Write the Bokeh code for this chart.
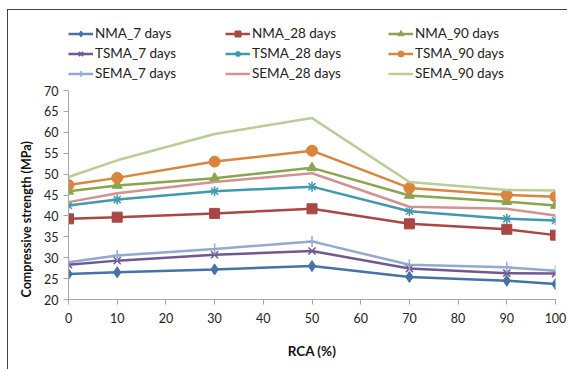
from bokeh.plotting import figure
from bokeh.models import Legend, LegendItem, FixedTicker, ColumnDataSource, Title
from bokeh.embed import file_html
from bokeh.resources import INLINE

rca = [0, 10, 30, 50, 70, 90, 100]

nma_7 = [26.1, 26.5, 27.2, 28.0, 25.4, 24.5, 23.7]
nma_28 = [39.3, 39.7, 40.6, 41.7, 38.1, 36.8, 35.4]
nma_90 = [45.9, 47.3, 49.0, 51.5, 44.9, 43.4, 42.5]
tsma_7 = [28.3, 29.3, 30.7, 31.6, 27.4, 26.3, 26.2]
tsma_28 = [42.5, 43.9, 45.9, 47.0, 41.1, 39.3, 38.9]
tsma_90 = [47.4, 49.1, 53.0, 55.6, 46.7, 45.0, 44.6]
sema_7 = [28.9, 30.5, 32.1, 33.9, 28.3, 27.7, 26.9]
sema_28 = [43.3, 45.4, 48.1, 50.2, 42.2, 41.7, 40.1]
sema_90 = [49.3, 53.3, 59.6, 63.4, 48.1, 46.2, 46.1]

labels = ["NMA_7 days", "NMA_28 days", "NMA_90 days",
          "TSMA_7 days", "TSMA_28 days", "TSMA_90 days",
          "SEMA_7 days", "SEMA_28 days", "SEMA_90 days"]
series = [nma_7, nma_28, nma_90, tsma_7, tsma_28, tsma_90, sema_7, sema_28, sema_90]
colors = ["#4572A7", "#AA4643", "#89A54E", "#71588F", "#4198AF", "#DB843D",
          "#93A9CF", "#D19392", "#B9CD96"]
markers = ["diamond", "square", "triangle", "x", "asterisk", "circle", "cross", None, None]
msizes = [11, 10, 10, 10, 10, 11, 11, 0, 0]
widths = [2.5, 2.5, 2.5, 2.5, 2.5, 2.5, 2.5, 2.5, 2.5]

FONT = "Lato"

# frame reaches up to the legend area; y axis itself is bounded to 20..70
p = figure(width=560, height=360, x_range=(0, 100), y_range=(20, 86.75),
           output_backend="svg", toolbar_location=None,
           min_border_left=60, min_border_right=13, min_border_top=10, min_border_bottom=71)
p.margin = (9, 0, 0, 7)
p.styles = {"border-top": "1.5px solid #444", "border-left": "1.5px solid #444"}
p.outline_line_color = None
p.xgrid.visible = False
p.ygrid.visible = False

items = []
for lab, ys, c, m, ms, w in zip(labels, series, colors, markers, msizes, widths):
    src = ColumnDataSource(dict(x=rca, y=ys))
    rs = [p.line("x", "y", source=src, line_color=c, line_width=w)]
    if m is not None:
        if m in ("x", "asterisk", "cross"):
            rs.append(p.scatter("x", "y", source=src, marker=m, size=ms,
                                line_color=c, line_width=1.5, fill_color=c))
        else:
            rs.append(p.scatter("x", "y", source=src, marker=m, size=ms,
                                line_color=c, fill_color=c))
    items.append(LegendItem(label=lab, renderers=rs))

# axes
p.xaxis.ticker = FixedTicker(ticks=[0, 10, 20, 30, 40, 50, 60, 70, 80, 90, 100])
p.yaxis.ticker = FixedTicker(ticks=[20, 25, 30, 35, 40, 45, 50, 55, 60, 65, 70])
p.yaxis.bounds = (20, 70)
for ax in (p.xaxis[0], p.yaxis[0]):
    ax.axis_line_color = "#A6A6A6"
    ax.axis_line_width = 1
    ax.major_tick_line_color = "#A6A6A6"
    ax.major_tick_in = 0
    ax.major_tick_out = 5
    ax.minor_tick_line_color = None
    ax.major_label_text_font = FONT
    ax.major_label_text_font_size = "12.5px"
    ax.major_label_text_color = "#222222"
    ax.axis_label_text_font = FONT
    ax.axis_label_text_font_size = "13.5px"
    ax.axis_label_text_font_style = "bold"
    ax.axis_label_text_color = "#111111"

p.xaxis.axis_label = "RCA (%)"
p.xaxis.major_label_standoff = 8
p.xaxis.axis_label_standoff = 17
p.yaxis.major_label_standoff = 5

ytitle = Title(text="Compressive strength (MPa)", align="left", offset=2,
               text_font=FONT, text_font_size="12.5px", text_font_style="bold",
               text_color="#111111", standoff=16)
p.add_layout(ytitle, "left")

col_x = [0, 157, 320]
for ci in range(3):
    leg = Legend(items=[items[ci], items[ci + 3], items[ci + 6]],
                 location=(col_x[ci], 218), orientation="vertical",
                 background_fill_alpha=0, border_line_color=None,
                 padding=0, margin=0, spacing=4,
                 glyph_width=25, glyph_height=15, label_height=15,
                 label_standoff=2,
                 label_text_font=FONT, label_text_font_size="13.5px",
                 label_text_color="#222222")
    p.add_layout(leg, "center")

open("out.html", "w").write(file_html(p, INLINE))
